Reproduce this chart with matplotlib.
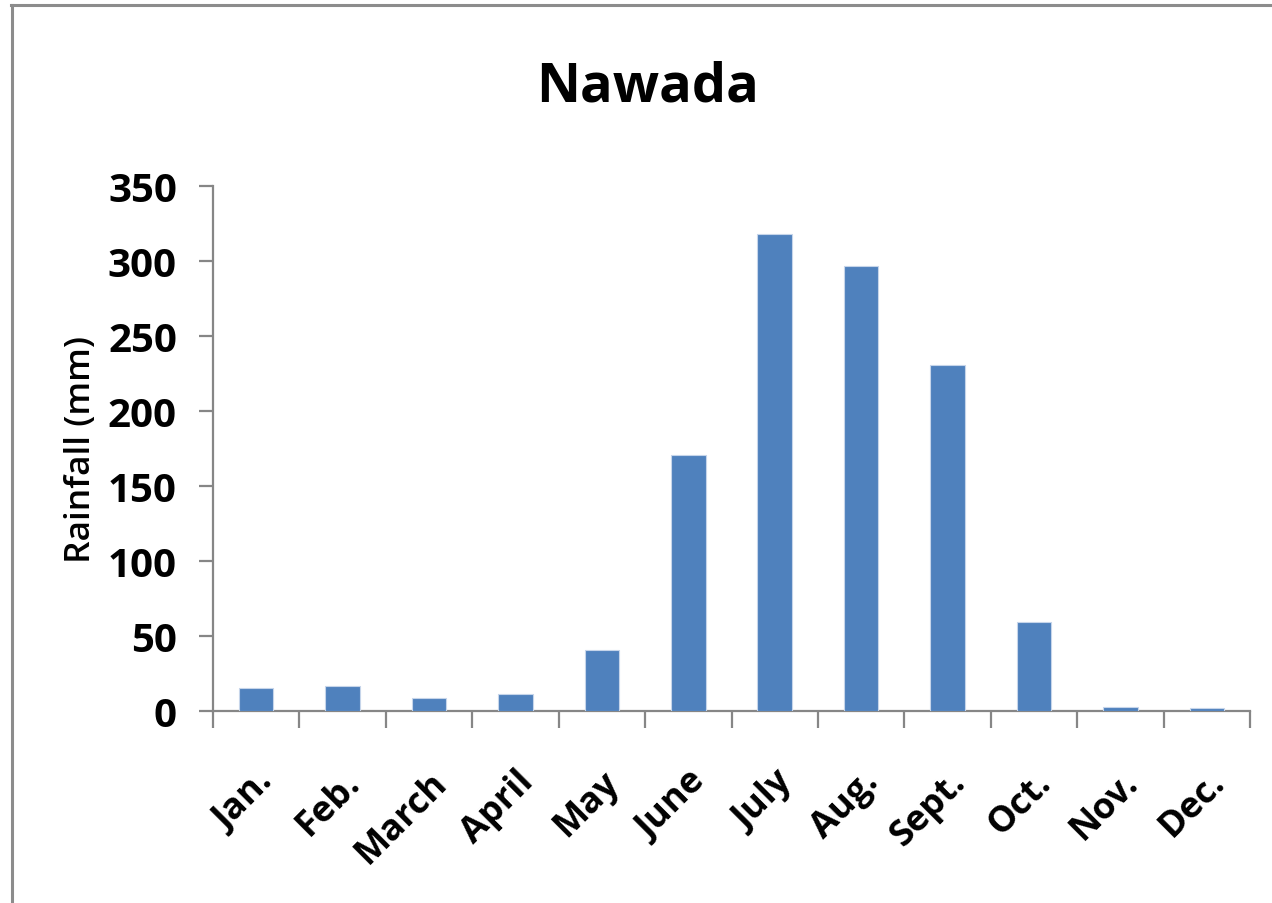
import matplotlib
matplotlib.use("Agg")
import matplotlib.pyplot as plt
from matplotlib.lines import Line2D
import numpy as np

months = ["Jan.", "Feb.", "March", "April", "May", "June", "July", "Aug.", "Sept.", "Oct.", "Nov.", "Dec."]
rainfall = [15.1, 16.5, 8.5, 11.1, 40.5, 170.7, 318, 296.4, 230.9, 59.1, 2.9, 1.8]
yticks = [0, 50, 100, 150, 200, 250, 300, 350]
title = "Nawada"
ylabel = "Rainfall (mm)"

W, H = 1272, 904
fig = plt.figure(figsize=(W / 100, H / 100), dpi=100)
fig.patch.set_facecolor("white")

ax = fig.add_axes([213 / W, 1 - 712 / H, (1250 - 213) / W, (712 - 187) / H])
x = np.arange(len(months))
ax.bar(x, rainfall, width=0.4, color="#4F81BD", edgecolor="#C6D5EA", linewidth=0.8, zorder=3)
ax.set_xlim(-0.5, len(months) - 0.5)
ax.set_ylim(0, 350)

grey = "#868686"
for s in ["top", "right"]:
    ax.spines[s].set_visible(False)
for s in ["left", "bottom"]:
    ax.spines[s].set_color(grey)
    ax.spines[s].set_linewidth(1.6)

ax.set_yticks(yticks)
ax.set_yticklabels([str(v) for v in yticks], fontsize=29, fontweight="bold", family="Open Sans")
ax.tick_params(axis="y", direction="out", length=10, width=1.6, color=grey, pad=16)

ax.set_xticks(x)
ax.set_xticklabels(months, rotation=45, ha="right", va="top", rotation_mode="anchor",
                   fontsize=26, fontweight="bold", family="Open Sans")
ax.tick_params(axis="x", which="major", length=0, pad=38)
ax.set_xticks(np.arange(-0.5, len(months)), minor=True)
ax.tick_params(axis="x", which="minor", direction="out", length=12, width=1.6, color=grey)

ax.set_ylabel(ylabel, fontsize=25.5, fontweight="semibold", family="Open Sans", labelpad=7)

fig.text(648 / W, 1 - 88 / H, title, ha="center", va="center", fontsize=39,
         fontweight="bold", family="Open Sans")

# outer chart border (top and left visible)
fig.add_artist(Line2D([11 / W, 1.0], [1 - 5.5 / H, 1 - 5.5 / H], transform=fig.transFigure,
                      color="#8c8c8c", linewidth=2.2))
fig.add_artist(Line2D([11.5 / W, 11.5 / W], [0, 1 - 5.5 / H], transform=fig.transFigure,
                      color="#8c8c8c", linewidth=2.2))

fig.savefig("out.png", dpi=100, facecolor="white")
